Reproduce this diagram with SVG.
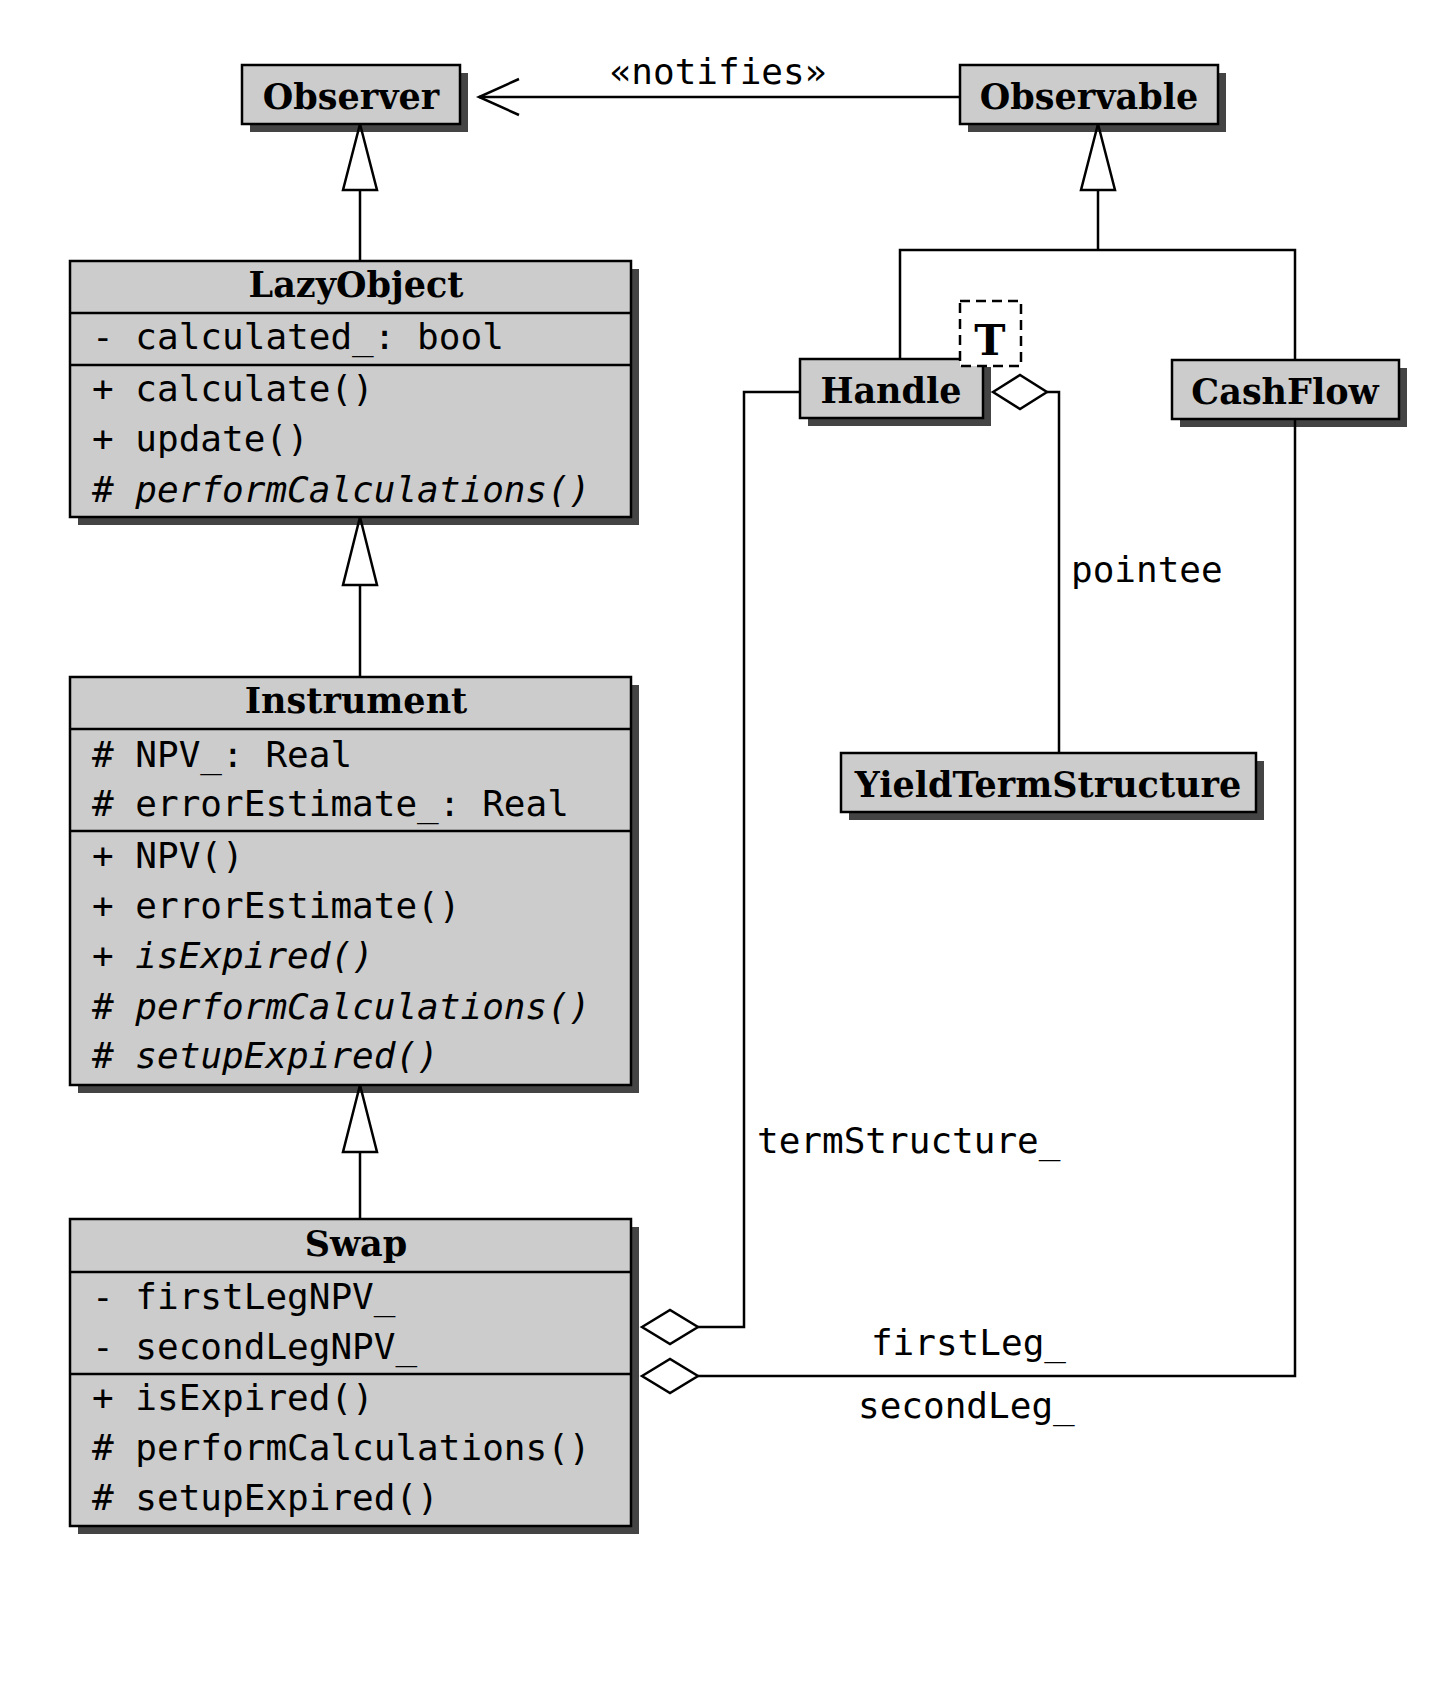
<svg xmlns="http://www.w3.org/2000/svg" width="1447" height="1689" viewBox="0 0 1447 1689">
<style>
.box{fill:#cccccc;stroke:#000;stroke-width:2.5}
.sh{fill:#444}
.t{font-family:"DejaVu Serif","Liberation Serif",serif;font-weight:bold;font-size:35px;text-anchor:middle}
.m{font-family:"DejaVu Sans Mono","Liberation Mono",monospace;font-size:36px}
.i{font-style:italic}
.ln{stroke:#000;stroke-width:2.5;fill:none}
.c{stroke:#000;stroke-width:2.5;fill:none}
</style>
<rect width="1447" height="1689" fill="#fff"/>
<g id="Observer"><rect class="sh" x="250" y="73" width="218" height="59"/><rect class="box" x="242" y="65" width="218" height="59"/><text class="t" x="351" y="109">Observer</text></g>
<g id="Observable"><rect class="sh" x="968" y="73" width="258" height="59"/><rect class="box" x="960" y="65" width="258" height="59"/><text class="t" x="1089" y="109">Observable</text></g>
<g id="LazyObject"><rect class="sh" x="78" y="269" width="561" height="256"/><rect class="box" x="70" y="261" width="561" height="256"/>
<line class="ln" x1="70" y1="313" x2="631" y2="313"/><line class="ln" x1="70" y1="365" x2="631" y2="365"/>
<text class="t" x="356" y="297">LazyObject</text>
<text class="m" x="92" y="349">- calculated_:  bool</text>
<text class="m" x="92" y="401">+ calculate()</text>
<text class="m" x="92" y="451">+ update()</text>
<text class="m" x="92" y="502"># <tspan class="i">performCalculations()</tspan></text></g>
<g id="Instrument"><rect class="sh" x="78" y="685" width="561" height="408"/><rect class="box" x="70" y="677" width="561" height="408"/>
<line class="ln" x1="70" y1="729" x2="631" y2="729"/><line class="ln" x1="70" y1="831" x2="631" y2="831"/>
<text class="t" x="356" y="713">Instrument</text>
<text class="m" x="92" y="767"># NPV_:  Real</text>
<text class="m" x="92" y="816"># errorEstimate_:  Real</text>
<text class="m" x="92" y="868">+ NPV()</text>
<text class="m" x="92" y="918">+ errorEstimate()</text>
<text class="m" x="92" y="968">+ <tspan class="i">isExpired()</tspan></text>
<text class="m" x="92" y="1019"># <tspan class="i">performCalculations()</tspan></text>
<text class="m" x="92" y="1068"># <tspan class="i">setupExpired()</tspan></text></g>
<g id="Swap"><rect class="sh" x="78" y="1227" width="561" height="307"/><rect class="box" x="70" y="1219" width="561" height="307"/>
<line class="ln" x1="70" y1="1272" x2="631" y2="1272"/><line class="ln" x1="70" y1="1374" x2="631" y2="1374"/>
<text class="t" x="356" y="1256">Swap</text>
<text class="m" x="92" y="1309">- firstLegNPV_</text>
<text class="m" x="92" y="1359">- secondLegNPV_</text>
<text class="m" x="92" y="1410">+ isExpired()</text>
<text class="m" x="92" y="1460"># performCalculations()</text>
<text class="m" x="92" y="1510"># setupExpired()</text></g>
<g id="Handle"><rect class="sh" x="808" y="367" width="183" height="59"/><rect class="box" x="800" y="359" width="183" height="59"/><text class="t" x="891" y="403">Handle</text>
<rect x="960" y="301" width="61" height="65" fill="#fff" stroke="#000" stroke-width="2.5" stroke-dasharray="10,6"/><text class="t" x="990" y="355" style="font-size:42px">T</text></g>
<g id="CashFlow"><rect class="sh" x="1180" y="368" width="227" height="59"/><rect class="box" x="1172" y="360" width="227" height="59"/><text class="t" x="1285" y="404">CashFlow</text></g>
<g id="YieldTermStructure"><rect class="sh" x="849" y="761" width="415" height="59"/><rect class="box" x="841" y="753" width="415" height="59"/><text class="t" x="1048" y="797">YieldTermStructure</text></g>
<g id="connectors">
<polyline class="c" points="960,97 479,97"/><polyline class="c" points="519,79 479,97 519,115"/>
<line class="c" x1="360" y1="190" x2="360" y2="261"/><polygon class="c" fill="#fff" points="360,124 343,190 377,190"/>
<line class="c" x1="360" y1="585" x2="360" y2="677"/><polygon class="c" fill="#fff" points="360,517 343,585 377,585"/>
<line class="c" x1="360" y1="1152" x2="360" y2="1219"/><polygon class="c" fill="#fff" points="360,1085 343,1152 377,1152"/>
<polyline class="c" points="1098,190 1098,250"/><polyline class="c" points="900,359 900,250 1295,250 1295,360"/><polygon class="c" fill="#fff" points="1098,124 1081,190 1115,190"/>
<polyline class="c" points="1047,392 1059,392 1059,753"/><polygon class="c" fill="#fff" points="993,392 1020,375 1047,392 1020,409"/>
<polyline class="c" points="800,392 744,392 744,1327 698,1327"/><polygon class="c" fill="#fff" points="642,1327 670,1310 698,1327 670,1344"/>
<polyline class="c" points="698,1376 1295,1376 1295,419"/><polygon class="c" fill="#000" points="642,1376 670,1359 698,1376 670,1393"/>
<text class="m" x="718" y="84" text-anchor="middle">«notifies»</text>
<text class="m" x="1071" y="582">pointee</text>
<text class="m" x="757" y="1153">termStructure_</text>
<text class="m" x="1066" y="1355" text-anchor="end">firstLeg_</text>
<text class="m" x="858" y="1418">secondLeg_</text>
</g>
</svg>
